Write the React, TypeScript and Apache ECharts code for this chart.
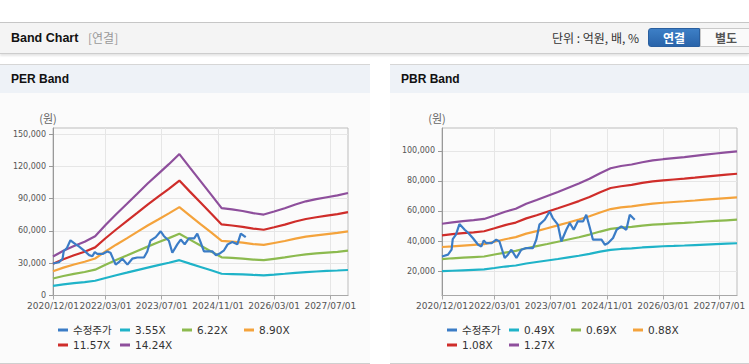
import React, { useEffect, useRef } from 'react';
import * as echarts from 'echarts';

// ---------- data ----------
const bandDates = [
  '2020-12-01', '2021-03-01', '2021-06-01', '2021-09-01', '2021-12-01',
  '2022-03-01', '2022-06-01', '2022-09-01', '2022-12-01', '2023-03-01',
  '2023-06-01', '2023-09-01', '2023-12-01', '2024-03-01', '2024-06-01',
  '2024-09-01', '2024-12-01', '2025-03-01', '2025-06-01', '2025-09-01',
  '2025-12-01', '2026-03-01', '2026-06-01', '2026-09-01', '2026-12-01',
  '2027-03-01', '2027-06-01', '2027-09-01', '2027-12-01',
];

const priceDates = [
  '2020-12-01', '2021-01-22', '2021-02-22', '2021-03-04', '2021-04-01', '2021-05-01',
  '2021-06-16', '2021-07-13', '2021-08-25', '2021-10-10', '2021-11-07', '2021-11-28',
  '2021-12-19', '2022-02-04', '2022-03-16', '2022-04-13', '2022-05-28', '2022-06-25',
  '2022-07-25', '2022-09-07', '2022-10-19', '2022-12-01', '2023-01-28', '2023-02-26',
  '2023-03-25', '2023-05-10', '2023-06-22', '2023-07-19', '2023-09-01', '2023-10-01',
  '2023-11-13', '2023-12-13', '2024-01-16', '2024-02-21', '2024-04-07', '2024-05-04',
  '2024-06-01', '2024-07-01', '2024-09-13', '2024-10-13', '2024-11-10', '2024-12-22',
  '2025-01-22', '2025-03-04', '2025-04-16', '2025-05-16', '2025-06-13', '2025-06-28',
];
const priceValues = [
  29700, 30900, 34200, 41300, 44200, 51300,
  47500, 45700, 42000, 37500, 36400, 40400,
  38600, 38600, 40900, 39700, 28700, 30900,
  34200, 28700, 34200, 35300, 35300, 40900,
  50900, 54200, 59700, 55300, 50900, 39700,
  47500, 52000, 47500, 53100, 53100, 57500,
  49700, 40900, 40900, 37500, 38700, 42000,
  47500, 49700, 47500, 57500, 55300, 54200,
];

// PER bands
const per355 = [9000, 10300, 11500, 12500, 13700, 16300, 18800, 21200, 23600, 25900, 28200, 30400, 32800, 29600, 26500, 23400, 20200, 19900, 19600, 19100, 18700, 19400, 20200, 21100, 21800, 22300, 22800, 23200, 23700];
const per622 = [15800, 18100, 20100, 21800, 24000, 28600, 33000, 37100, 41300, 45400, 49400, 53300, 57400, 51900, 46400, 40900, 35500, 34900, 34300, 33400, 32800, 34100, 35400, 36900, 38200, 39100, 39900, 40600, 41600];
const per890 = [22600, 25900, 28800, 31300, 34400, 40900, 47200, 53100, 59100, 65000, 70600, 76300, 82100, 74300, 66400, 58600, 50800, 50000, 49100, 47800, 47000, 48800, 50600, 52800, 54700, 55900, 57100, 58100, 59500];
const per1157 = [29400, 33700, 37400, 40600, 44700, 53200, 61300, 69100, 76800, 84500, 91800, 99100, 106800, 96500, 86400, 76100, 66000, 65000, 63800, 62200, 61100, 63400, 65800, 68700, 71100, 72700, 74200, 75600, 77400];
const per1424 = [36200, 41500, 46000, 50000, 55000, 65500, 75500, 85000, 94500, 104000, 113000, 122000, 131400, 118800, 106300, 93700, 81200, 80000, 78500, 76500, 75200, 78000, 81000, 84500, 87500, 89500, 91300, 93000, 95200];

// PBR bands
const pbr049 = [19900, 20200, 20500, 20800, 21100, 22000, 23000, 23700, 25000, 26000, 27000, 28000, 29100, 30200, 31400, 32900, 34100, 34700, 35100, 35700, 36100, 36500, 36700, 37000, 37300, 37600, 37900, 38200, 38500];
const pbr069 = [28000, 28500, 28900, 29300, 29700, 31000, 32300, 33400, 35200, 36600, 38000, 39500, 41000, 42500, 44300, 46300, 48100, 48900, 49400, 50300, 50900, 51300, 51700, 52100, 52500, 53000, 53400, 53800, 54200];
const pbr088 = [36000, 36400, 36900, 37400, 37900, 39500, 41200, 42600, 44900, 46600, 48500, 50400, 52300, 54300, 56500, 59000, 61300, 62400, 63100, 64100, 64900, 65500, 66000, 66500, 67000, 67600, 68100, 68600, 69100];
const pbr108 = [43800, 44600, 45200, 45800, 46500, 48500, 50600, 52300, 55100, 57200, 59500, 61800, 64200, 66600, 69300, 72500, 75300, 76500, 77400, 78700, 79700, 80400, 81000, 81600, 82200, 82900, 83600, 84200, 84800];
const pbr127 = [51500, 52400, 53200, 53900, 54700, 57000, 59500, 61500, 64800, 67300, 70000, 72700, 75500, 78300, 81500, 85200, 88500, 90000, 91000, 92500, 93700, 94500, 95200, 95900, 96700, 97500, 98300, 99000, 99700];

const perNames = ['수정주가', '3.55X', '6.22X', '8.90X', '11.57X', '14.24X'];
const pbrNames = ['수정주가', '0.49X', '0.69X', '0.88X', '1.08X', '1.27X'];

const xTickLabels = ['2020/12/01', '2022/03/01', '2023/07/01', '2024/11/01', '2026/03/01', '2027/07/01'];
const xStart = '2020/12/01';
const xEnd = '2027/12/01';

const perYTicks = [0, 30000, 60000, 90000, 120000, 150000];
const perYMin = 0;
const perYMax = 155600;
const pbrYTicks = [20000, 40000, 60000, 80000, 100000];
const pbrYMin = 3700;
const pbrYMax = 115300;

const colors = ['#3b7cc6', '#1fb3c8', '#8cba4f', '#f4a33c', '#cf2d2a', '#8e4f9c'];

// ---------- helpers ----------
const ts = (s: string) => {
  const [y, m, d] = s.split(/[-/]/).map(Number);
  return new Date(y, m - 1, d).getTime();
};
const pad = (n: number) => String(n).padStart(2, '0');
const fmtDate = (v: number) => {
  const d = new Date(v);
  return `${d.getFullYear()}/${pad(d.getMonth() + 1)}/${pad(d.getDate())}`;
};
const fmtNum = (v: number) => Math.round(v).toString().replace(/\B(?=(\d{3})+(?!\d))/g, ',');

const AXIS_FONT = '"DejaVu Sans", "Noto Sans CJK KR", sans-serif';

function buildOption(
  names: string[],
  bands: number[][],
  yMin: number,
  yMax: number,
  yTicks: number[],
  gridLeft: number,
  gridRight: number,
) {
  const series: any[] = [
    {
      name: names[0],
      type: 'line',
      symbol: 'none',
      showSymbol: false,
      z: 3,
      lineStyle: { width: 2.2, color: colors[0] },
      itemStyle: { color: colors[0] },
      data: priceDates.map((d, i) => [ts(d), priceValues[i]]),
    },
  ];
  bands.forEach((vals, k) => {
    series.push({
      name: names[k + 1],
      type: 'line',
      symbol: 'none',
      showSymbol: false,
      z: 2,
      lineStyle: { width: 2.2, color: colors[k + 1] },
      itemStyle: { color: colors[k + 1] },
      data: bandDates.map((d, i) => [ts(d), vals[i]]),
    });
  });
  const xTicks = xTickLabels.map(ts);
  return {
    animation: false,
    color: colors,
    grid: {
      left: gridLeft,
      right: gridRight,
      top: 35,
      height: 167.5,
      show: true,
      borderColor: '#bdbdbd',
      borderWidth: 1,
      containLabel: false,
    },
    legend: {
      left: gridLeft,
      top: 226,
      width: 270,
      itemGap: 3,
      itemWidth: 10,
      itemHeight: 3,
      icon: 'rect',
      data: names,
      textStyle: {
        fontSize: 10.5,
        lineHeight: 12,
        width: 44,
        color: '#333',
        fontFamily: AXIS_FONT,
      },
    },
    xAxis: {
      type: 'value',
      min: ts(xStart),
      max: ts(xEnd),
      axisLine: { show: true, lineStyle: { color: '#a8a8a8', width: 1 } },
      axisTick: { show: true, length: 4, customValues: xTicks, lineStyle: { color: '#a8a8a8' } },
      splitLine: { show: true, lineStyle: { color: '#e6e6e6', width: 1 } },
      axisLabel: {
        customValues: xTicks,
        formatter: (v: number) => fmtDate(v),
        fontSize: 9,
        color: '#555',
        fontFamily: AXIS_FONT,
        margin: 6,
        showMinLabel: true,
        showMaxLabel: true,
        hideOverlap: false,
      },
    },
    yAxis: {
      type: 'value',
      min: yMin,
      max: yMax,
      name: '(원)',
      nameLocation: 'end',
      nameGap: 5,
      nameTextStyle: {
        fontSize: 11,
        color: '#666',
        fontFamily: '"Noto Sans CJK KR", sans-serif',
        align: 'center',
        padding: [0, 10, 0, 0],
      },
      axisLine: { show: true, lineStyle: { color: '#999', width: 1 } },
      axisTick: { show: true, length: 4, customValues: yTicks, lineStyle: { color: '#999' } },
      splitLine: { show: true, lineStyle: { color: '#e6e6e6', width: 1 } },
      axisLabel: {
        customValues: yTicks,
        formatter: (v: number) => fmtNum(v),
        fontSize: 8,
        color: '#555',
        fontFamily: AXIS_FONT,
        margin: 7,
        showMinLabel: true,
      },
    },
    series,
  };
}

export default function App() {
  const perRef = useRef<HTMLDivElement>(null);
  const pbrRef = useRef<HTMLDivElement>(null);

  useEffect(() => {
    const prev = document.body.style.margin;
    document.body.style.margin = '0';
    const c1 = echarts.init(perRef.current!, null, { renderer: 'svg' });
    const c2 = echarts.init(pbrRef.current!, null, { renderer: 'svg' });
    c1.setOption(
      buildOption(perNames, [per355, per622, per890, per1157, per1424], perYMin, perYMax, perYTicks, 53, 22),
    );
    c2.setOption(
      buildOption(pbrNames, [pbr049, pbr069, pbr088, pbr108, pbr127], pbrYMin, pbrYMax, pbrYTicks, 52, 12),
    );
    return () => {
      c1.dispose();
      c2.dispose();
      document.body.style.margin = prev;
    };
  }, []);

  const boldFont = '"Liberation Sans", Arial, "Noto Sans CJK KR", sans-serif';
  const krFont = '"Noto Sans CJK KR", "Liberation Sans", sans-serif';

  const panelStyle = (left: number, width: number): React.CSSProperties => ({
    position: 'absolute',
    left,
    top: 64,
    width,
    height: 298,
    background: '#fbfbfb',
    borderTop: '1px solid #d6d6d6',
    borderBottom: '1px solid #cfcfcf',
  });
  const panelHeadStyle: React.CSSProperties = {
    position: 'absolute',
    left: 0,
    top: 0,
    right: 0,
    height: 28,
    background: '#eef2f7',
  };
  const panelTitle: React.CSSProperties = {
    position: 'absolute',
    left: 11,
    top: 0,
    lineHeight: '28px',
    fontFamily: boldFont,
    fontWeight: 'bold',
    fontSize: 12,
    color: '#111',
  };

  return (
    <div
      style={{
        position: 'fixed',
        left: 0,
        top: 0,
        width: 749,
        height: 364,
        background: '#fff',
        overflow: 'hidden',
      }}
    >
      {/* header */}
      <div
        style={{
          position: 'absolute',
          left: 0,
          top: 22,
          width: 749,
          height: 30,
          background: '#f4f4f4',
          borderTop: '1px solid #c6c6c6',
          borderBottom: '1px solid #cdcdcd',
          boxShadow: '0 2px 2px rgba(0,0,0,0.10)',
        }}
      >
        <span
          style={{
            position: 'absolute',
            left: 11,
            top: 0,
            lineHeight: '30px',
            fontFamily: boldFont,
            fontWeight: 'bold',
            fontSize: 12.5,
            color: '#111',
          }}
        >
          Band Chart
        </span>
        <span
          style={{
            position: 'absolute',
            left: 88,
            top: 0,
            lineHeight: '30px',
            fontFamily: krFont,
            fontSize: 12,
            color: '#999',
          }}
        >
          [연결]
        </span>
        <span
          style={{
            position: 'absolute',
            left: 552,
            top: 0,
            lineHeight: '30px',
            fontFamily: krFont,
            fontSize: 12,
            color: '#333',
            whiteSpace: 'pre',
          }}
        >
          단위 : 억원, 배, %
        </span>
        <div
          style={{
            position: 'absolute',
            left: 648,
            top: 5,
            width: 52,
            height: 19,
            background: 'linear-gradient(#3d7fc6, #2964aa)',
            border: '1px solid #2a5f9f',
            borderRadius: '3px 0 0 3px',
            boxSizing: 'border-box',
            color: '#fff',
            fontFamily: krFont,
            fontWeight: 'bold',
            fontSize: 12,
            lineHeight: '17px',
            textAlign: 'center',
          }}
        >
          연결
        </div>
        <div
          style={{
            position: 'absolute',
            left: 700,
            top: 5,
            width: 52,
            height: 19,
            background: '#fafafa',
            border: '1px solid #c9c9c9',
            boxSizing: 'border-box',
            color: '#555',
            fontFamily: krFont,
            fontWeight: 'bold',
            fontSize: 12,
            lineHeight: '17px',
            textAlign: 'center',
          }}
        >
          별도
        </div>
      </div>

      {/* PER panel */}
      <div style={panelStyle(0, 370)}>
        <div style={panelHeadStyle}>
          <span style={panelTitle}>PER Band</span>
        </div>
      </div>
      {/* PBR panel */}
      <div style={panelStyle(390, 359)}>
        <div style={panelHeadStyle}>
          <span style={panelTitle}>PBR Band</span>
        </div>
      </div>

      <div ref={perRef} style={{ position: 'absolute', left: 0, top: 93, width: 370, height: 269 }} />
      <div ref={pbrRef} style={{ position: 'absolute', left: 390, top: 93, width: 359, height: 269 }} />
    </div>
  );
}
